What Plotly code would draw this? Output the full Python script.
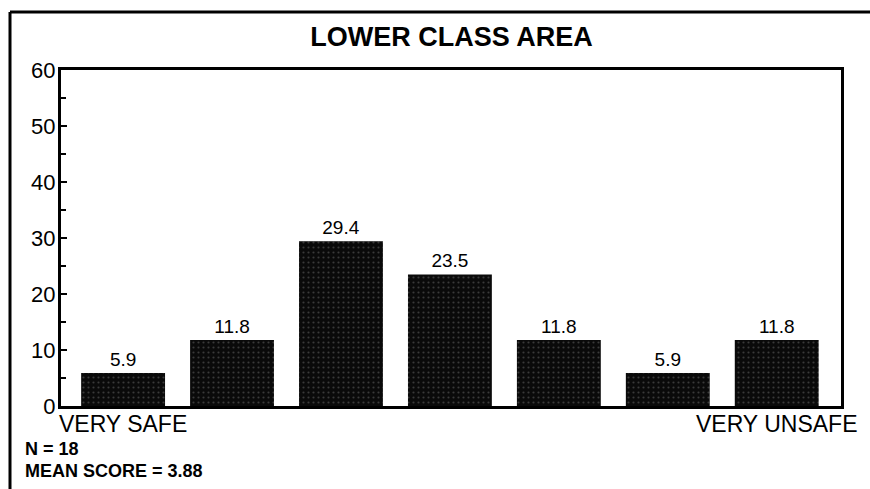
import plotly.graph_objects as go

categories = [1, 2, 3, 4, 5, 6, 7]
values = [5.9, 11.8, 29.4, 23.5, 11.8, 5.9, 11.8]
value_labels = ["5.9", "11.8", "29.4", "23.5", "11.8", "5.9", "11.8"]
end_labels = ["VERY SAFE", "VERY UNSAFE"]
title = "LOWER CLASS AREA"
notes = ["N = 18", "MEAN SCORE = 3.88"]

x = [c - 1 for c in categories]
FONT = "Arial, Liberation Sans"

fig = go.Figure()
fig.add_trace(go.Bar(
    x=x, y=values, width=0.77,
    text=value_labels, textposition="outside", constraintext="none",
    textfont=dict(family=FONT, size=19, color="black"),
    marker=dict(color="#0a0a0a", line=dict(width=0),
                pattern=dict(shape=".", fgcolor="#6a6a6a", bgcolor="#0a0a0a",
                             size=5, solidity=0.15)),
    cliponaxis=False,
))

fig.update_layout(
    width=870, height=489,
    margin=dict(l=61, r=29, t=70, b=83),
    paper_bgcolor="white", plot_bgcolor="white",
    showlegend=False,
    title=dict(text="<b>" + title + "</b>", x=0.519, xanchor="center",
               y=1 - 36.5 / 489, yanchor="middle",
               font=dict(family=FONT, size=27, color="black")),
    xaxis=dict(range=[-0.57, 6.59], tickvals=[0, 6], ticktext=end_labels,
               showgrid=False, zeroline=False, showline=True, linecolor="black",
               linewidth=3, mirror=True, ticks="", ticklabelstandoff=-5,
               tickfont=dict(family=FONT, size=23, color="black")),
    yaxis=dict(range=[0, 60], dtick=10, showgrid=False, zeroline=False,
               showline=True, linecolor="black", linewidth=3, mirror=True,
               ticks="inside", ticklen=6, tickcolor="black", tickwidth=1.5,
               ticklabelstandoff=-2,
               minor=dict(dtick=5, ticks="inside", ticklen=5, tickcolor="black", tickwidth=1.5),
               tickfont=dict(family=FONT, size=22, color="black")),
)

# outer frame (left and top edges)
fig.add_shape(type="line", xref="paper", yref="paper",
              x0=-51 / 780, x1=1.1, y0=1 + 58 / 336, y1=1 + 58 / 336,
              line=dict(color="black", width=3))
fig.add_shape(type="line", xref="paper", yref="paper",
              x0=-51 / 780, x1=-51 / 780, y0=-0.3, y1=1 + 58 / 336,
              line=dict(color="black", width=3))

fig.add_annotation(text="<b>" + notes[0] + "</b>", xref="paper", yref="paper",
                   x=-38 / 780, y=-(449 - 406) / 336, xanchor="left", yanchor="middle",
                   showarrow=False,
                   font=dict(family=FONT, size=18, color="black"))
fig.add_annotation(text="<b>" + notes[1] + "</b>", xref="paper", yref="paper",
                   x=-38 / 780, y=-(471 - 406) / 336, xanchor="left", yanchor="middle",
                   showarrow=False,
                   font=dict(family=FONT, size=18, color="black"))

fig.write_html("out.html")
